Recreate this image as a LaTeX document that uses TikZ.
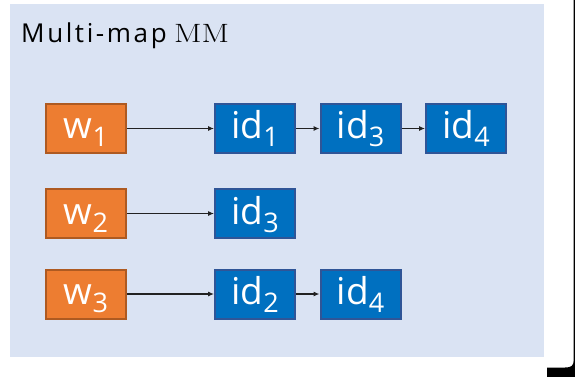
\documentclass[tikz,border=0pt]{standalone}
\usepackage{fontspec}
\setsansfont{Open Sans}
\newfontfamily\titlefont[LetterSpace=10]{Open Sans}
\usetikzlibrary{arrows.meta}
\definecolor{panelblue}{HTML}{DAE3F3}
\definecolor{keyfill}{HTML}{ED7D31}
\definecolor{keyline}{HTML}{AE5A21}
\definecolor{idfill}{HTML}{0070C0}
\definecolor{idline}{HTML}{2F5597}
\definecolor{linkgray}{HTML}{222222}
\newcommand\boxsub[1]{\raisebox{-8pt}{\fontsize{27}{27}\selectfont #1}}
\tikzset{
  cell/.style={minimum width=80pt, minimum height=49pt, inner sep=0pt,
    line width=2pt, text=white, text height=25pt, text depth=4pt,
    font=\sffamily\fontsize{37}{37}\selectfont},
  keycell/.style={cell, fill=keyfill, draw=keyline},
  idcell/.style={cell, fill=idfill, draw=idline},
  link/.style={draw=linkgray, line width=1.1pt, -{Latex[length=6pt,width=5pt]}}
}
\begin{document}
\begin{tikzpicture}[x=1pt,y=-1pt]
\useasboundingbox (0,0) rectangle (575,377);
% panel
\fill[panelblue] (10,4) rectangle (544,357);
% corner bracket on the right
\fill[black] (547,367.5) -- (565,367.5) .. controls (571,367.5) and (573.7,366) .. (573.7,360)
  -- (573.7,0) -- (575,0) -- (575,377) -- (547,377) -- cycle;
% title
\node[anchor=base west, inner sep=0pt, font=\titlefont\fontsize{26}{26}\selectfont] (title)
  at (21,43) {Multi-map};
\node[anchor=base west, inner sep=0pt] (mm) at (174,43)
  {\scalebox{1.22}[1]{\rmfamily\fontsize{26.5}{26.5}\selectfont MM}};
% keys
\node[keycell] (w1) at (86,128.5) {w\boxsub{1}};
\node[keycell] (w2) at (86,213.5) {w\boxsub{2}};
\node[keycell] (w3) at (86,294) {w\boxsub{3}};
% identifier lists
\node[idcell] (a1) at (255,128.5) {id\boxsub{1}};
\node[idcell] (a2) at (360.5,128.5) {id\boxsub{3}};
\node[idcell] (a3) at (466,128.5) {id\boxsub{4}};
\node[idcell] (b1) at (255,213.5) {id\boxsub{3}};
\node[idcell] (c1) at (255,294) {id\boxsub{2}};
\node[idcell] (c2) at (360.5,294) {id\boxsub{4}};
% links
\draw[link] (w1) -- (a1);
\draw[link] (a1) -- (a2);
\draw[link] (a2) -- (a3);
\draw[link] (w2) -- (b1);
\draw[link] (w3) -- (c1);
\draw[link] (c1) -- (c2);
\end{tikzpicture}
\end{document}
